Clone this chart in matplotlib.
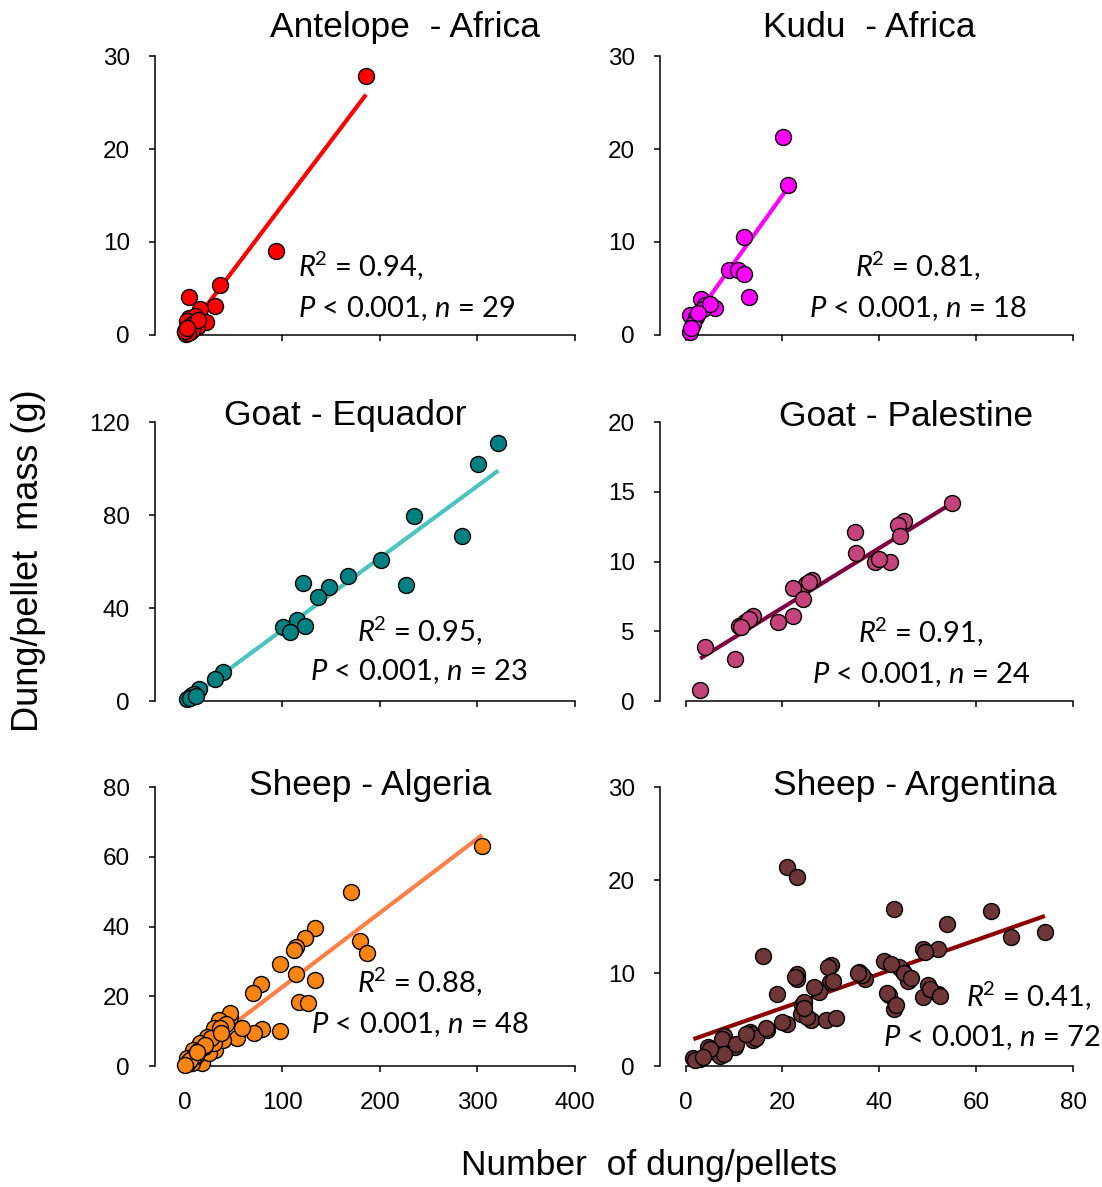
import matplotlib
matplotlib.use("Agg")
import matplotlib.pyplot as plt
import numpy as np

plt.rcParams['font.family'] = ['Liberation Sans', 'DejaVu Sans']
plt.rcParams['mathtext.fontset'] = 'custom'
plt.rcParams['mathtext.rm'] = 'Lato'
plt.rcParams['mathtext.it'] = 'Lato:italic'
plt.rcParams['mathtext.bf'] = 'Lato:bold'

# number of dung/pellets vs. dung/pellet mass (g)
antelope_x = [186, 94, 37, 31, 5, 16, 22, 9, 5, 11, 3, 8, 1, 2, 4, 6, 7, 10, 12, 13,
              3, 5, 2, 6, 8, 4, 1, 14, 3]
antelope_y = [27.8, 9.0, 5.4, 3.1, 4.1, 2.8, 1.4, 1.1, 1.8, 2.0, 1.5, 0.8, 0.3, 0.5, 0.7,
              1.0, 0.4, 1.3, 1.2, 0.9, 0.2, 0.6, 0.1, 0.3, 0.5, 0.2, 0.4, 1.6, 0.8]
antelope_fit = (0.139, 0.0)

kudu_x = [20.1, 21.2, 12.1, 9.0, 10.9, 12.1, 13.0, 3.1, 6.1, 4.0, 0.9, 2.2, 0.9,
          1.5, 3.5, 1.2, 5.0, 2.5]
kudu_y = [21.3, 16.1, 10.5, 7.0, 7.0, 6.6, 4.1, 3.9, 2.9, 3.2, 2.15, 1.97, 0.35,
          1.2, 2.8, 0.8, 3.3, 2.4]
kudu_fit = (0.725, 0.52)

equador_x = [321.5, 301, 235.5, 284.6, 201.4, 226.7, 167.9, 148.2, 121.8, 137.2, 100.7,
             115, 123.6, 108.2, 39.3, 31.4, 15.4, 5.8, 8, 3, 10, 6, 12]
equador_y = [111.1, 101.8, 79.7, 71.0, 60.6, 49.9, 53.9, 49.2, 50.6, 44.6, 32.0,
             34.8, 32.3, 29.8, 12.6, 9.3, 5.0, 1.85, 2.5, 0.8, 3.2, 1.2, 2.0]
equador_fit = (0.31, -0.5)

palestine_x = [55.1, 45, 43.9, 44.3, 35, 35.2, 39.1, 42.1, 26.0, 24.9, 22.1, 24.2,
               14, 12.3, 11, 19, 22.1, 4.0, 10.1, 3.0, 13, 11.5, 40, 25.5]
palestine_y = [14.2, 12.9, 12.6, 11.8, 12.1, 10.6, 10.0, 9.95, 8.7, 8.4, 8.1, 7.3,
               6.07, 5.7, 5.4, 5.7, 6.07, 3.9, 3.0, 0.8, 5.9, 5.3, 10.2, 8.5]
palestine_fit = (0.214, 2.41)

algeria_x = [305, 171, 134, 124, 114, 112, 180, 187, 98, 114, 134, 78, 70, 117, 127,
             98, 80, 71, 47, 54, 59,
             47, 35, 30, 43, 23, 16, 9, 3, 31, 40, 18, 8, 25, 30, 5, 12, 20, 3, 10,
             14, 27, 36, 6, 1, 38, 21, 13]
algeria_y = [63, 50, 39.7, 36.6, 34.2, 33.3, 35.9, 32.3, 29.4, 26.3, 24.7, 23.5, 21.0,
             18.4, 18.2, 10.1, 10.5, 9.4, 14.1, 7.9, 10.8,
             15.1, 13.2, 10.8, 12.2, 8.4, 6.5, 4.6, 2.2, 4.6, 7.5, 0.8, 0.8, 3.6, 6.5,
             1.5, 3.0, 5.5, 0.5, 2.8, 4.2, 8.0, 11.0, 1.8, 0.3, 9.5, 6.0, 3.9]
algeria_fit = (0.213, 1.3)

argentina_x = [20.9, 23, 43, 63.1, 54, 74.2, 67.1, 49.1, 52.2, 15.9, 41, 30, 44.6, 23,
               23, 35.9, 37.1, 29.8, 46, 27.1, 18.8, 50.1, 49.1, 52.1, 41.9, 43.1, 24,
               23.8, 25.9, 29, 20.9, 16.9, 13.2, 14, 7.9, 10.1, 4.7, 6.1, 7, 1.6, 3,
               22.5, 24.5, 25, 29.5, 30.5, 36.5, 44, 45, 42.5, 49.5, 13.5, 14.5, 7.5,
               8, 5, 2, 3.5, 10.5, 16.5, 20, 27.5, 31, 41.5, 43.5, 50.5, 52.5, 35.5,
               26.5, 24.5, 12.5, 46.5]
argentina_y = [21.4, 20.3, 16.9, 16.7, 15.3, 14.4, 13.9, 12.6, 12.6, 11.8, 11.3, 10.9,
               10.3, 9.9, 9.4, 10.1, 9.4, 9.0, 9.1, 8.3, 7.8, 8.7, 7.4, 7.8, 7.6, 6.15,
               6.6, 5.6, 5.0, 5.0, 4.5, 3.9, 3.7, 2.8, 3.2, 2.1, 2.1, 1.55, 1.05, 0.83,
               0.8,
               9.6, 6.9, 5.3, 10.6, 9.2, 9.8, 10.6, 10.0, 11.0, 12.3, 3.4, 3.0, 2.9,
               1.3, 1.8, 0.7, 1.0, 2.4, 4.1, 4.7, 8.0, 5.2, 7.9, 6.6, 8.3, 7.5, 10.0,
               8.5, 6.2, 3.5, 9.5]
argentina_fit = (0.1825, 2.6)

titles = ["Antelope  - Africa", "Kudu  - Africa", "Goat - Equador",
          "Goat - Palestine", "Sheep - Algeria", "Sheep - Argentina"]
r2_values = ["0.94", "0.81", "0.95", "0.91", "0.88", "0.41"]
n_values = [29, 18, 23, 24, 48, 72]

panels = [
    dict(x=antelope_x, y=antelope_y, fit=antelope_fit, ylim=30, yticks=[0, 10, 20, 30],
         face='#ff0000', line='#ff0000'),
    dict(x=kudu_x, y=kudu_y, fit=kudu_fit, ylim=30, yticks=[0, 10, 20, 30],
         face='#ff00ff', line='#ff00ff'),
    dict(x=equador_x, y=equador_y, fit=equador_fit, ylim=120, yticks=[0, 40, 80, 120],
         face='#008080', line='#4cc3bf'),
    dict(x=palestine_x, y=palestine_y, fit=palestine_fit, ylim=20,
         yticks=[0, 5, 10, 15, 20], face='#c4437a', line='#7f0040'),
    dict(x=algeria_x, y=algeria_y, fit=algeria_fit, ylim=80, yticks=[0, 20, 40, 60, 80],
         face='#f98411', line='#ff8047'),
    dict(x=argentina_x, y=argentina_y, fit=argentina_fit, ylim=30, yticks=[0, 10, 20, 30],
         face='#6e3636', line='#8b0000'),
]

# panel placement (figure fractions) and text anchors (axes fractions)
col_left = [0.1407, 0.5989]
col_width = [0.3811, 0.3748]
row_bottom = [0.7178, 0.4094, 0.1019]
row_height = 0.2350
title_pos = [(0.595, 1.068), (0.508, 1.068), (0.452, 0.989),
             (0.596, 0.986), (0.512, 0.971), (0.617, 0.971)]
stat_pos = [((0.340, 0.208, 'left'), (0.340, 0.065, 'left')),
            ((0.625, 0.208, 'center'), (0.625, 0.065, 'center')),
            ((0.629, 0.211, 'center'), (0.629, 0.075, 'center')),
            ((0.632, 0.208, 'center'), (0.632, 0.066, 'center')),
            ((0.631, 0.262, 'center'), (0.631, 0.118, 'center')),
            ((0.893, 0.211, 'center'), (0.804, 0.072, 'center'))]

fig = plt.figure(figsize=(11.02, 11.87), dpi=100)

for i, p in enumerate(panels):
    row, col = divmod(i, 2)
    ax = fig.add_axes([col_left[col], row_bottom[row], col_width[col], row_height])

    x = np.array(p['x'], dtype=float)
    y = np.array(p['y'], dtype=float)
    slope, intercept = p['fit']
    xf = np.array([x.min(), x.max()])
    ax.plot(xf, slope * xf + intercept, color=p['line'], lw=3, zorder=2,
            solid_capstyle='butt')
    ax.plot(x, y, linestyle='None', marker='o', markersize=11.5,
            markerfacecolor=p['face'], markeredgecolor='black', markeredgewidth=1.0,
            zorder=3, clip_on=False)

    if col == 0:
        xmax, xticks = 400, [0, 100, 200, 300, 400]
        ax.set_xlim(-30, xmax)
    else:
        xmax, xticks = 80, [0, 20, 40, 60, 80]
        ax.set_xlim(-5.3, xmax)
    ax.set_ylim(0, p['ylim'])
    ax.set_xticks(xticks)
    ax.set_yticks(p['yticks'])
    if row < 2:
        ax.set_xticklabels([])

    for side in ['top', 'right']:
        ax.spines[side].set_visible(False)
    ax.spines['bottom'].set_bounds(0, xmax)
    ax.spines['left'].set_linewidth(1.1)
    ax.spines['bottom'].set_linewidth(1.1)
    ax.tick_params(direction='out', length=4, width=1.1, labelsize=17.5, pad=14)
    ax.tick_params(axis='x', pad=15)

    tx, ty = title_pos[i]
    ax.text(tx, ty, titles[i], transform=ax.transAxes, ha='center', va='baseline',
            fontsize=25.5)

    (x1, y1, ha1), (x2, y2, ha2) = stat_pos[i]
    ax.text(x1, y1, r'$R^{\!2}$ = ' + r2_values[i] + ',', transform=ax.transAxes,
            ha=ha1, va='baseline', fontsize=21, family='Lato')
    ax.text(x2, y2, r'$P$ < 0.001, $n$ = %d' % n_values[i], transform=ax.transAxes,
            ha=ha2, va='baseline', fontsize=21, family='Lato')

fig.text(0.026, 0.528, 'Dung/pellet  mass (g)', rotation=90, ha='center', va='center',
         fontsize=26)
fig.text(0.589, 0.018, 'Number  of dung/pellets', ha='center', va='center', fontsize=25.5)

fig.savefig('out.png', dpi=100)
